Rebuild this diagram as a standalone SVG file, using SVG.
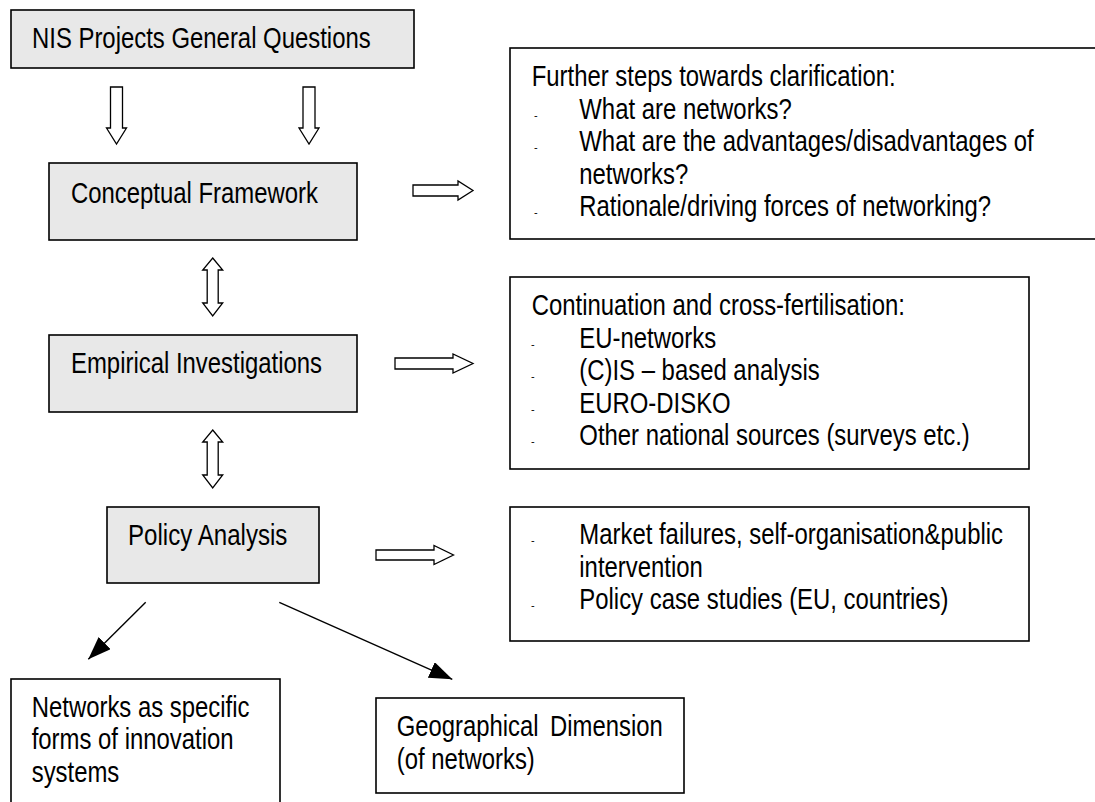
<svg xmlns="http://www.w3.org/2000/svg" width="1095" height="802" viewBox="0 0 1095 802">
  <defs>
    <marker id="head" markerUnits="userSpaceOnUse" markerWidth="24" markerHeight="18" refX="23" refY="8.5" orient="auto" viewBox="0 0 24 18">
      <path d="M0,0 L23,8.5 L0,17 z" fill="#000"/>
    </marker>
  </defs>
  <style>
    .gray { fill: #e8e8e8; stroke: #000; stroke-width: 1.6; }
    .white { fill: #fff; stroke: #000; stroke-width: 1.6; }
    .t { font-family: "Liberation Sans", Arial, sans-serif; font-size: 28.7px; fill: #000; }
    .d { font-family: "Liberation Sans", Arial, sans-serif; font-size: 11px; fill: #000; }
    .block { fill: #fff; stroke: #000; stroke-width: 1.3; stroke-linejoin: miter; }
    .line { fill: none; stroke: #000; stroke-width: 1.4; marker-end: url(#head); }
  </style>
  <rect width="1095" height="802" fill="#fff"/>

  <g id="nis-questions">
    <rect class="gray" x="11" y="10" width="403" height="58"/>
    <text class="t" x="32" y="48" textLength="338.7" lengthAdjust="spacingAndGlyphs">NIS Projects General Questions</text>
  </g>

  <g id="conceptual-framework">
    <rect class="gray" x="49" y="163" width="308" height="77"/>
    <text class="t" x="71" y="203" textLength="247" lengthAdjust="spacingAndGlyphs">Conceptual Framework</text>
  </g>

  <g id="empirical-investigations">
    <rect class="gray" x="49" y="335" width="308" height="77"/>
    <text class="t" x="71" y="373" textLength="251" lengthAdjust="spacingAndGlyphs">Empirical Investigations</text>
  </g>

  <g id="policy-analysis">
    <rect class="gray" x="107" y="507" width="212" height="76"/>
    <text class="t" x="128" y="545" textLength="159.4" lengthAdjust="spacingAndGlyphs">Policy Analysis</text>
  </g>

  <g id="further-steps">
    <rect class="white" x="510" y="48" width="600" height="191"/>
    <text class="t" x="531.7" y="86" textLength="364" lengthAdjust="spacingAndGlyphs">Further steps towards clarification:</text>
    <text class="d" x="534" y="118.5">-</text>
    <text class="t" x="579.3" y="118.5" textLength="212.5" lengthAdjust="spacingAndGlyphs">What are networks?</text>
    <text class="d" x="534" y="151">-</text>
    <text class="t" x="579.3" y="151" textLength="454.4" lengthAdjust="spacingAndGlyphs">What are the advantages/disadvantages of</text>
    <text class="t" x="579.3" y="183.5" textLength="108.9" lengthAdjust="spacingAndGlyphs">networks?</text>
    <text class="d" x="534" y="216">-</text>
    <text class="t" x="579.3" y="216" textLength="411.8" lengthAdjust="spacingAndGlyphs">Rationale/driving forces of networking?</text>
  </g>

  <g id="continuation">
    <rect class="white" x="510" y="277" width="519" height="192"/>
    <text class="t" x="531.7" y="315" textLength="373.2" lengthAdjust="spacingAndGlyphs">Continuation and cross-fertilisation:</text>
    <text class="d" x="531" y="347.5">-</text>
    <text class="t" x="579.3" y="347.5" textLength="136.8" lengthAdjust="spacingAndGlyphs">EU-networks</text>
    <text class="d" x="531" y="380">-</text>
    <text class="t" x="579.3" y="380" textLength="240.4" lengthAdjust="spacingAndGlyphs">(C)IS – based analysis</text>
    <text class="d" x="531" y="412.5">-</text>
    <text class="t" x="579.3" y="412.5" textLength="151.4" lengthAdjust="spacingAndGlyphs">EURO-DISKO</text>
    <text class="d" x="531" y="445">-</text>
    <text class="t" x="579.3" y="445" textLength="390.5" lengthAdjust="spacingAndGlyphs">Other national sources (surveys etc.)</text>
  </g>

  <g id="market-failures">
    <rect class="white" x="510" y="507" width="519" height="134"/>
    <text class="d" x="531" y="544">-</text>
    <text class="t" x="579.3" y="544" textLength="423.7" lengthAdjust="spacingAndGlyphs">Market failures, self-organisation&amp;public</text>
    <text class="t" x="579.3" y="576.5" textLength="123.5" lengthAdjust="spacingAndGlyphs">intervention</text>
    <text class="d" x="531" y="609">-</text>
    <text class="t" x="579.3" y="609" textLength="369.2" lengthAdjust="spacingAndGlyphs">Policy case studies (EU, countries)</text>
  </g>

  <g id="networks-innovation-systems">
    <rect class="white" x="11" y="679" width="269" height="140"/>
    <text class="t" x="31.7" y="716.5" textLength="217.8" lengthAdjust="spacingAndGlyphs">Networks as specific</text>
    <text class="t" x="31.7" y="749" textLength="201.9" lengthAdjust="spacingAndGlyphs">forms of innovation</text>
    <text class="t" x="31.7" y="781.5" textLength="87.6" lengthAdjust="spacingAndGlyphs">systems</text>
  </g>

  <g id="geographical-dimension">
    <rect class="white" x="376" y="698" width="308" height="95"/>
    <text class="t" x="396.7" y="736" word-spacing="6" textLength="266" lengthAdjust="spacingAndGlyphs">Geographical Dimension</text>
    <text class="t" x="396.7" y="768.5" textLength="138.1" lengthAdjust="spacingAndGlyphs">(of networks)</text>
  </g>

  <g id="connectors">
    <polygon class="block" points="110.5,87 122.5,87 122.5,128 126.5,128 116.5,144 106.5,128 110.5,128"/>
    <polygon class="block" points="303,87 315,87 315,128 319,128 309,144 299,128 303,128"/>
    <polygon class="block" points="212.7,258 222.7,270 218.2,270 218.2,303 222.7,303 212.7,316 202.7,303 207.2,303 207.2,270 202.7,270"/>
    <polygon class="block" points="212.7,430 222.7,442 218.2,442 218.2,475 222.7,475 212.7,488 202.7,475 207.2,475 207.2,442 202.7,442"/>
    <polygon class="block" points="413,185 458,185 458,181 473,190.5 458,200 458,196 413,196"/>
    <polygon class="block" points="395,358 453,358 453,354 473,363.5 453,373 453,369 395,369"/>
    <polygon class="block" points="376,550 434,550 434,545.5 453.5,555 434,564.5 434,560 376,560"/>
    <line class="line" x1="145.7" y1="602.3" x2="88.3" y2="659.3"/>
    <line class="line" x1="279.3" y1="602.3" x2="452.3" y2="679.3"/>
  </g>
</svg>
